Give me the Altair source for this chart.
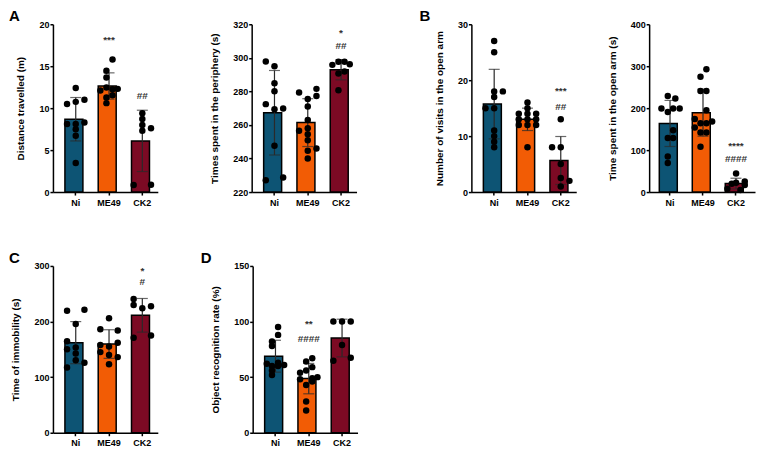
import altair as alt
import pandas as pd

FONT = "Liberation Sans"
groups = ["Ni", "ME49", "CK2"]
colors = ["#0d5474", "#f25c05", "#7c0a24"]

# ---- Panel A1: distance travelled (m)
a1_ni = [12.4, 10.5, 10.75, 11.0, 8.1, 8.1, 8.3, 7.5, 6.7, 3.45]
a1_ni_j = [0, -1, 0, 1, -1, 0, 1, 0, 0, 0]
a1_me = [15.8, 14.45, 13.65, 12.1, 12.45, 12.25, 12.3, 11.27, 11.55, 10.6]
a1_me_j = [0.4, -0.3, -0.3, -1, -0.3, 0.4, 1, -0.3, 0.4, -0.3]
a1_ck = [9.4, 8.7, 8.0, 7.6, 7.3, 0.83, 0.87]
a1_ck_j = [0, 0, 0, 1, 0, -1, 1]
a1_ann = [("ME49", 18.1, "***"), ("CK2", 11.5, "##")]

# ---- Panel A2: time spent in periphery (s)
a2_ni = [297.8, 295, 284.9, 280.1, 272.4, 269.4, 269.8, 247.6, 227, 228.7]
a2_ni_j = [-1, 0, 0, 0, -1, 0, 1, 0, -1, 1]
a2_me = [279.3, 281.5, 277.3, 275.4, 271, 262.9, 258.1, 256.5, 254.5, 250.9, 246, 244.6, 240]
a2_me_j = [-1, 1, 1, 0, 0, 0, 0, -1, 0, 0, 1, 0, 0]
a2_ck = [295.8, 297.6, 297.6, 296.2, 290.7, 291.8, 280.7]
a2_ck_j = [-1, -0.3, 0.4, 1, -0.3, 0.4, -0.3]
a2_ann = [("CK2", 315, "*"), ("CK2", 307, "##")]

# ---- Panel B1: number of visits in the open arm
b1_ni = [27, 25, 18, 18, 17, 15, 15, 11, 10, 9, 8]
b1_ni_j = [0, 0, 0, 1, 0, -1, 0, 0, 0, 0, 0]
b1_me = [16, 15, 14, 14, 14, 13, 13, 13, 12, 12, 12, 8]
b1_me_j = [0, 0, -1, 0, 1, -1, 0, 1, -1, 0, 1, 0]
b1_ck = [13, 8, 8, 5, 2.5, 2, 1]
b1_ck_j = [0, -1, 0, 0, 0, 1, 0]
b1_ann = [("CK2", 18.1, "***"), ("CK2", 15.2, "##")]

# ---- Panel B2: time spent in the open arm (s)
b2_ni = [229, 223, 199, 191, 199, 199, 147.6, 128.6, 128.6, 85, 69]
b2_ni_j = [-0.27, 0.6, -1, -0.27, 0.35, 1.1, 0.35, -0.27, 0.35, -0.27, -0.27]
b2_me = [293, 275, 241, 241, 195, 174, 168, 164, 164, 154, 142, 142, 108]
b2_me_j = [0.38, -0.3, -0.3, 0.38, 0.38, -0.96, 1.04, -0.3, 0.38, -0.96, -0.3, 0.38, -0.3]
b2_ck = [44, 25, 22, 20, 17, 8, 5]
b2_ck_j = [0, 1, 0, -0.5, 1, -1, 0.5]
b2_ann = [("CK2", 110, "****"), ("CK2", 78.6, "####")]

# ---- Panel C: time of immobility (s)
c_ni = [219.6, 221.4, 195.7, 164.6, 153.2, 150.2, 142.4, 130.5, 125.7, 117.3]
c_ni_j = [-1, 1, 0, -1, 0, -1, 0, 0, 1, -1]
c_me = [206, 186, 184, 158, 155, 162, 145, 140, 136, 123]
c_me_j = [0, -1, 1, -1, 0, 1, -1, 0, 1, 0]
c_ck = [240.6, 229.8, 223.8, 227.4, 171, 174.7]
c_ck_j = [-1, -1, 0, 1, -1, 1]
c_ann = [("CK2", 291, "*"), ("CK2", 271, "#")]

# ---- Panel D: object recognition rate (%)
d_ni = [95, 88, 82, 78, 63, 62, 61, 60, 60, 56, 52]
d_ni_j = [0.3, 0.3, -0.4, -0.4, 0.3, -1, 1, -0.4, 0.3, -0.4, -0.4]
d_me = [67, 64, 59, 56, 54, 50, 49, 48, 46, 43, 28, 20]
d_me_j = [0.4, -0.3, 0.4, -0.3, -1, 1, 0.4, -1, 0.4, -0.3, -0.3, -0.3]
d_ck = [100, 100, 100, 79, 64.7, 67.4]
d_ck_j = [-1, 0, 1, 0, -1, 1]
d_ann = [("ME49", 97.6, "**"), ("ME49", 84.7, "####")]


def make_df(ni, nij, me, mej, ck, ckj):
    rows = []
    for g, vals, js in (("Ni", ni, nij), ("ME49", me, mej), ("CK2", ck, ckj)):
        for v, j in zip(vals, js):
            rows.append({"group": g, "value": v, "jit": j})
    return pd.DataFrame(rows)


def panel(df, ann, domain, ticks, ytitle, letter, letter_x,
          width=105, height=168, pad_outer=0.25, align=0.72):
    pad_inner = 0.35
    step = width / (3 - pad_inner + 2 * pad_outer)
    half_band = step * (1 - pad_inner) / 2
    xenc = alt.X("group:N", sort=groups,
                 scale=alt.Scale(domain=groups, paddingInner=pad_inner,
                                 paddingOuter=pad_outer, align=align),
                 axis=alt.Axis(title=None, labelAngle=0))
    yscale = alt.Scale(domain=domain, nice=False, zero=False)
    yaxis = alt.Axis(values=ticks, title=ytitle)
    bars = alt.Chart(df).mark_bar(stroke="black", strokeWidth=1.5).encode(
        x=xenc,
        y=alt.Y("mean(value):Q", scale=yscale, axis=yaxis),
        y2=alt.datum(domain[0]),
        color=alt.Color("group:N", scale=alt.Scale(domain=groups, range=colors), legend=None),
    )
    err = alt.Chart(df).mark_errorbar(extent="stdev", ticks=True, size=11,
                                      thickness=1.2, color="#2a2a2a").encode(
        x=xenc, y=alt.Y("value:Q", scale=yscale, axis=yaxis),
    )
    pts = alt.Chart(df).mark_circle(size=42, color="black", opacity=1).encode(
        x=xenc,
        xOffset=alt.XOffset("jit:Q", scale=alt.Scale(
            domain=[-1, 1], range=[half_band - 8.7, half_band + 8.7])),
        y=alt.Y("value:Q", scale=yscale, axis=yaxis),
    )
    adf = pd.DataFrame(ann, columns=["group", "y", "t"])
    txt = alt.Chart(adf).mark_text(fontSize=10, fontWeight="bold", color="#333333",
                                   font=FONT, baseline="middle").encode(
        x=xenc, y=alt.Y("y:Q", scale=yscale, axis=yaxis), text="t:N",
    )
    layers = [bars, err, pts, txt]
    if letter:
        lab = alt.Chart(pd.DataFrame({"t": [letter]})).mark_text(
            fontSize=15, fontWeight="bold", font=FONT, color="black",
            align="left", baseline="alphabetic").encode(
            x=alt.value(letter_x), y=alt.value(-3), text="t:N")
        layers.append(lab)
    return alt.layer(*layers).properties(width=width, height=height)


A1 = panel(make_df(a1_ni, a1_ni_j, a1_me, a1_me_j, a1_ck, a1_ck_j), a1_ann,
           [0, 20], [0, 5, 10, 15, 20], "Distance travelled (m)", "A", -44)
A2 = panel(make_df(a2_ni, a2_ni_j, a2_me, a2_me_j, a2_ck, a2_ck_j), a2_ann,
           [220, 320], [220, 240, 260, 280, 300, 320], "Times spent in the periphery (s)", "", 0)
B1 = panel(make_df(b1_ni, b1_ni_j, b1_me, b1_me_j, b1_ck, b1_ck_j), b1_ann,
           [0, 30], [0, 10, 20, 30], "Number of visits in the open arm", "B", -52)
B2 = panel(make_df(b2_ni, b2_ni_j, b2_me, b2_me_j, b2_ck, b2_ck_j), b2_ann,
           [0, 400], [0, 100, 200, 300, 400], "Time spent in the open arm (s)", "", 0,
           width=106, pad_outer=0.28, align=0.55)
C = panel(make_df(c_ni, c_ni_j, c_me, c_me_j, c_ck, c_ck_j), c_ann,
          [0, 300], [0, 100, 200, 300], "Time of immobility (s)", "C", -44, height=167)
D = panel(make_df(d_ni, d_ni_j, d_me, d_me_j, d_ck, d_ck_j), d_ann,
          [0, 150], [0, 50, 100, 150], "Object recognition rate (%)", "D", -52, height=167)

row1 = alt.hconcat(alt.hconcat(A1, A2, spacing=50), alt.hconcat(B1, B2, spacing=29), spacing=61)
row2 = alt.hconcat(C, D, spacing=41)

chart = alt.vconcat(row1, row2, spacing=42).properties(
    padding={"left": 0, "top": 0, "right": 0, "bottom": 0}
).configure_view(stroke="transparent").configure_axis(
    domainColor="black", domainWidth=1.5, tickColor="black", tickWidth=1.5,
    labelColor="black", labelFont=FONT, labelFontWeight="bold", labelFontSize=9,
    titleFont=FONT, titleFontWeight="bold", titleFontSize=10, titleColor="black",
    grid=False,
).configure_axisY(tickSize=3, labelPadding=1, titlePadding=13
).configure_axisX(tickSize=3, labelPadding=3)

chart.save("out.html", embed_options={"renderer": "svg", "actions": False})
